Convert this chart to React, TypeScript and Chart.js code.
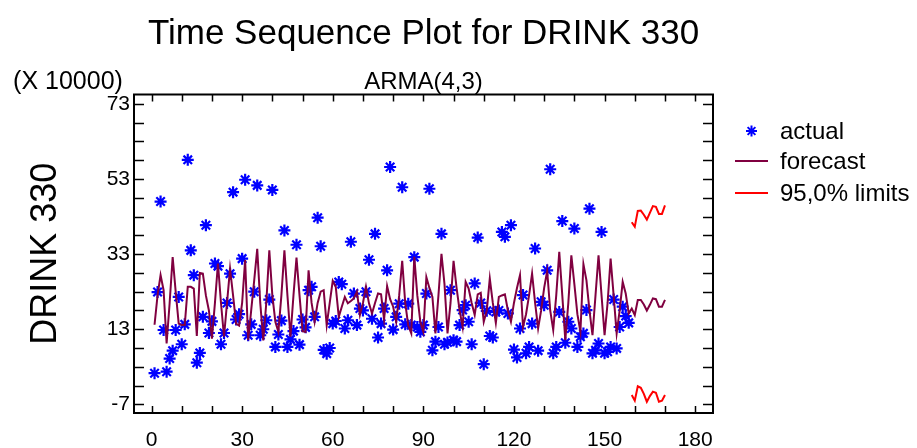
import React, { useEffect, useRef } from 'react';
import { Chart, registerables } from 'chart.js';

Chart.register(...registerables);

// ---- data (values in units of 10000) ----
const actualValues = [
  1.3, 22.9, 47.0, 12.8, 1.7, 5.2, 7.3, 12.8, 21.6, 9.0,
  14.3, 58.1, 34.0, 27.4, 4.1, 6.7, 16.3, 40.7, 12.0, 15.1,
  30.5, 29.8, 9.0, 12.0, 20.0, 27.8, 49.5, 15.6, 17.0, 31.8,
  52.8, 11.4, 14.3, 23.0, 51.3, 11.4, 13.0, 15.4, 20.9, 50.1,
  8.3, 11.6, 15.3, 39.3, 8.3, 10.3, 12.5, 35.5, 8.9, 15.6,
  13.5, 23.4, 24.3, 16.3, 42.7, 35.1, 7.5, 6.5, 8.0, 14.5,
  15.2, 25.6, 25.0, 13.2, 15.4, 36.3, 22.5, 14.1, 18.5, 18.0,
  23.0, 31.5, 15.8, 38.4, 10.8, 14.5, 18.5, 28.7, 56.2, 12.9,
  16.3, 19.8, 50.8, 14.3, 19.8, 14.1, 32.2, 13.6, 12.3, 14.1,
  22.5, 50.4, 7.4, 9.7, 13.6, 38.4, 9.0, 9.5, 23.4, 10.1,
  9.7, 14.1, 18.1, 19.4, 15.0, 9.0, 25.2, 37.4, 20.0, 3.7,
  17.9, 11.2, 10.8, 17.6, 18.0, 38.9, 37.6, 17.2, 40.7, 7.6,
  5.5, 13.2, 22.1, 6.6, 8.3, 14.5, 34.5, 7.3, 20.3, 19.4,
  28.7, 55.6, 6.6, 8.3, 17.6, 41.8, 9.4, 15.0, 13.2, 39.8,
  8.3, 11.0, 11.9, 18.1, 45.1, 6.6, 7.4, 9.2, 38.9, 6.6,
  7.0, 8.3, 20.9, 7.9, 13.6, 19.0, 16.5, 14.7,
];

const forecastValues = [
  14.2, 22.0, 27.4, 23.4, 9.2, 20.0, 32.2, 23.0, 14.5, 14.1,
  14.1, 24.3, 24.3, 23.8, 11.2, 28.0, 27.8, 22.0, 18.0, 10.5,
  20.0, 30.5, 20.0, 11.0, 20.0, 29.1, 22.0, 14.5, 14.0, 20.0,
  31.4, 10.1, 18.0, 26.0, 34.4, 20.0, 10.0, 20.0, 34.0, 22.0,
  15.0, 12.3, 22.0, 34.0, 22.0, 11.0, 22.0, 32.1, 22.0, 12.5,
  12.3, 28.7, 20.0, 15.0, 20.0, 23.0, 23.4, 14.1, 20.0, 25.9,
  24.3, 16.3, 19.0, 21.6, 19.9, 20.5, 21.2, 23.0, 16.8, 20.0,
  24.3, 19.9, 17.2, 20.0, 22.5, 22.3, 15.6, 24.5, 21.0, 19.0,
  15.0, 22.0, 31.2, 20.0, 14.0, 11.9, 32.3, 22.0, 15.0, 12.3,
  26.9, 24.0, 21.6, 11.9, 22.0, 33.1, 25.0, 11.9, 20.0, 31.2,
  24.0, 18.0, 13.6, 25.6, 23.8, 20.0, 16.8, 22.3, 22.7, 15.0,
  18.0, 26.5, 20.0, 14.7, 21.6, 22.0, 22.3, 18.0, 15.0, 20.0,
  24.0, 27.4, 13.6, 17.0, 22.0, 27.8, 20.0, 13.2, 18.0, 24.0,
  28.5, 18.0, 12.8, 22.0, 33.6, 22.0, 10.1, 20.0, 32.7, 25.0,
  17.0, 12.3, 30.3, 26.0, 18.0, 11.4, 22.0, 32.7, 22.0, 11.4,
  20.0, 31.8, 22.0, 11.9, 18.0, 25.6, 22.5, 17.2,
  18.5, 16.8, 20.8, 20.8, 19.6, 18.0, 19.5, 21.2, 21.0, 19.0, 19.0, 20.8,
];

const limitStartPeriod = 159;
const upperLimits = [41.5, 40.3, 44.5, 44.6, 43.5, 42.2, 44.0, 45.8, 45.6, 43.7, 43.7, 46.0];
const lowerLimits = [-4.5, -6.0, -2.2, -2.6, -4.2, -6.3, -4.8, -3.6, -3.9, -6.3, -6.0, -4.5];

const xTickValues = [0, 30, 60, 90, 120, 150, 180];
const yTickValues = [-7, 13, 33, 53, 73];

const titleText = 'Time Sequence Plot for DRINK 330';
const subtitleText = 'ARMA(4,3)';
const yAxisTitle = 'DRINK 330';
const yScaleNote = '(X 10000)';
const seriesLabels = ['actual', 'forecast', '95,0% limits'];

const FONT = "'Liberation Sans', Arial, Helvetica, sans-serif";
const ACTUAL_COLOR = '#0000ff';
const FORECAST_COLOR = '#800040';
const LIMIT_COLOR = '#ff0000';

function drawStar(ctx: CanvasRenderingContext2D, x: number, y: number, r: number) {
  const d = Math.cos(Math.PI / 4) * r;
  ctx.beginPath();
  ctx.moveTo(x - r, y); ctx.lineTo(x + r, y);
  ctx.moveTo(x, y - r); ctx.lineTo(x, y + r);
  ctx.moveTo(x - d, y - d); ctx.lineTo(x + d, y + d);
  ctx.moveTo(x - d, y + d); ctx.lineTo(x + d, y - d);
  ctx.stroke();
}

const frameLegendPlugin = {
  id: 'frameLegend',
  afterDraw(chart: any) {
    const { ctx, chartArea } = chart;
    const { left, right, top, bottom } = chartArea;
    const xs = chart.scales.x;
    const ys = chart.scales.y;
    ctx.save();
    // inward tick marks
    ctx.strokeStyle = '#000';
    ctx.lineWidth = 1.5;
    ctx.beginPath();
    for (let v = 0; v <= 180; v += 10) {
      const px = Math.round(xs.getPixelForValue(v)) + 0.5;
      ctx.moveTo(px, bottom); ctx.lineTo(px, bottom - 7);
      ctx.moveTo(px, top); ctx.lineTo(px, top + 7);
    }
    for (let v = -7; v <= 73; v += 5) {
      const py = Math.round(ys.getPixelForValue(v)) + 0.5;
      ctx.moveTo(left, py); ctx.lineTo(left + 10, py);
      ctx.moveTo(right, py); ctx.lineTo(right - 10, py);
    }
    ctx.stroke();
    // frame
    ctx.lineWidth = 2;
    ctx.strokeRect(left, top, right - left, bottom - top);

    // scale note
    ctx.fillStyle = '#000';
    ctx.font = `25px ${FONT}`;
    ctx.textAlign = 'center';
    ctx.textBaseline = 'middle';
    ctx.fillText(yScaleNote, 68, 82);

    // legend
    ctx.textAlign = 'left';
    ctx.font = `24px ${FONT}`;
    const lx0 = right + 22;
    const lx1 = right + 55;
    const tx = right + 67;
    const rows = [131, 161, 193];
    ctx.strokeStyle = ACTUAL_COLOR;
    ctx.lineWidth = 2;
    drawStar(ctx, (lx0 + lx1) / 2, rows[0], 5.5);
    ctx.strokeStyle = FORECAST_COLOR;
    ctx.beginPath(); ctx.moveTo(lx0, rows[1]); ctx.lineTo(lx1, rows[1]); ctx.stroke();
    ctx.strokeStyle = LIMIT_COLOR;
    ctx.beginPath(); ctx.moveTo(lx0, rows[2]); ctx.lineTo(lx1, rows[2]); ctx.stroke();
    ctx.fillStyle = '#000';
    seriesLabels.forEach((s, i) => ctx.fillText(s, tx, rows[i] + 1));
    ctx.restore();
  },
};

export default function App() {
  const canvasRef = useRef<HTMLCanvasElement | null>(null);

  useEffect(() => {
    const canvas = canvasRef.current;
    if (!canvas) return;
    const chart = new Chart(canvas, {
      type: 'line',
      data: {
        datasets: [
          {
            label: seriesLabels[1],
            data: forecastValues.map((v, i) => ({ x: i + 1, y: v })),
            borderColor: FORECAST_COLOR,
            borderWidth: 2,
            pointRadius: 0,
            fill: false,
            tension: 0,
          },
          {
            label: seriesLabels[2],
            data: upperLimits.map((v, i) => ({ x: limitStartPeriod + i, y: v })),
            borderColor: LIMIT_COLOR,
            borderWidth: 2,
            pointRadius: 0,
            fill: false,
            tension: 0,
          },
          {
            label: seriesLabels[2],
            data: lowerLimits.map((v, i) => ({ x: limitStartPeriod + i, y: v })),
            borderColor: LIMIT_COLOR,
            borderWidth: 2,
            pointRadius: 0,
            fill: false,
            tension: 0,
          },
          {
            label: seriesLabels[0],
            data: actualValues.map((v, i) => ({ x: i + 1, y: v })),
            showLine: false,
            pointStyle: 'star',
            pointRadius: 6,
            pointBorderWidth: 2.2,
            borderColor: ACTUAL_COLOR,
            backgroundColor: ACTUAL_COLOR,
          },
        ],
      } as any,
      options: {
        responsive: false,
        animation: false,
        devicePixelRatio: 1,
        events: [],
        layout: { padding: { left: 0, right: 204, top: 0, bottom: 0 } },
        plugins: {
          legend: { display: false },
          tooltip: { enabled: false },
          title: {
            display: true,
            text: titleText,
            fullSize: false,
            color: '#000',
            font: { size: 35, family: FONT, weight: 'normal' },
            padding: { top: 13, bottom: 0 },
          },
          subtitle: {
            display: true,
            text: subtitleText,
            fullSize: false,
            color: '#000',
            font: { size: 24, family: FONT, weight: 'normal', lineHeight: 1 },
            padding: { top: 15.5, bottom: 0 },
          },
        },
        scales: {
          x: {
            type: 'linear',
            min: -5.8,
            max: 185.9,
            grid: { display: false, drawTicks: false },
            border: { display: false },
            ticks: {
              color: '#000',
              font: { size: 21, family: FONT },
              padding: 15,
              maxRotation: 0,
              autoSkip: false,
            },
            afterBuildTicks: (s: any) => { s.ticks = xTickValues.map((v) => ({ value: v })); },
            afterFit: (s: any) => { s.height = 35; },
          },
          y: {
            type: 'linear',
            min: -9.3,
            max: 75.5,
            grid: { display: false, drawTicks: false },
            border: { display: false },
            ticks: {
              color: '#000',
              font: { size: 21, family: FONT },
              padding: 4,
              autoSkip: false,
            },
            title: {
              display: true,
              text: yAxisTitle,
              color: '#000',
              font: { size: 36, family: FONT },
              padding: { top: 24, bottom: 0 },
            },
            afterBuildTicks: (s: any) => { s.ticks = yTickValues.map((v) => ({ value: v })); },
            afterFit: (s: any) => { s.width = 134; },
          },
        },
      } as any,
      plugins: [frameLegendPlugin],
    });
    return () => chart.destroy();
  }, []);

  return (
    <div style={{ position: 'absolute', left: 0, top: 0, width: 917, height: 448, background: '#fff' }}>
      <canvas ref={canvasRef} width={917} height={448} />
    </div>
  );
}
